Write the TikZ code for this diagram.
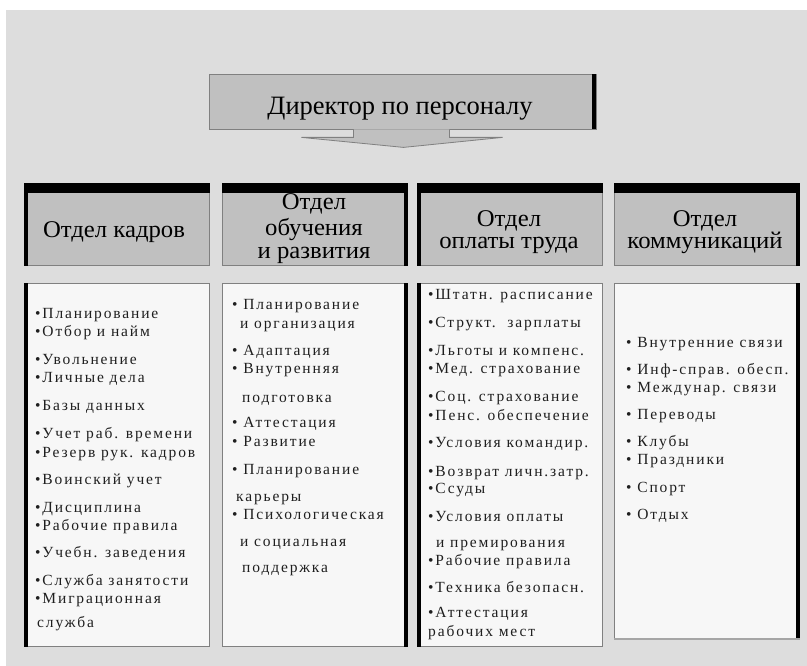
\documentclass[tikz,border=0pt]{standalone}
\usepackage{fontspec}
\setmainfont{Liberation Serif}
\newfontfamily\listfont[LetterSpace=12]{Liberation Serif}
\newfontfamily\headfont[FakeStretch=1.03]{Liberation Serif}
\usetikzlibrary{calc}
\definecolor{bg}{HTML}{DDDDDD}
\definecolor{panel}{HTML}{C0C0C0}
\definecolor{sheet}{HTML}{F7F7F7}
\definecolor{edge}{HTML}{808080}
\tikzset{
  panelbox/.style={fill=panel, draw=edge, line width=0.8pt, inner sep=0pt},
  sheetbox/.style={fill=sheet, draw=edge, line width=0.8pt, inner sep=0pt},
  head/.style={font=\headfont\fontsize{24}{24}\selectfont, inner sep=0pt, anchor=base},
  item/.style={font=\listfont\fontsize{15.5}{15.5}\selectfont, text=black!88, inner sep=0pt, anchor=base west},
  arrowshape/.style={fill=panel, draw=edge, line width=0.8pt, line join=miter},
}
\begin{document}
\begin{tikzpicture}[x=1pt, y=-1pt]
  \useasboundingbox (0,0) rectangle (807,666);
  \fill[white] (0,0) rectangle (807,666);
  \fill[bg] (6,10.5) rectangle (807,666);

  % director box with its down arrow
  \node[panelbox, minimum width=387pt, minimum height=55pt] (dir) at (402.5,101.5) {};
  \fill ($(dir.north east)+(-4,0)$) rectangle (dir.south east);
  \node[font=\fontsize{26.5}{26.5}\selectfont, inner sep=0pt, anchor=base] (dirlabel) at (400,115) {Директор по персоналу};
  \draw[arrowshape] ($(dir.south)+(-49,0)$) -- ++(0,8) -- ++(-52,0)
     -- ($(dir.south)+(1,18)$) -- ($(dir.south)+(100,8)$) -- ++(-53,0) -- ($(dir.south)+(47,0)$);

  % department headers and their task sheets
  \foreach \L/\s/\b [count=\i] in {24/0/646, 222/1/646, 417/0/646, 614/1/638} {
    \node[panelbox, minimum width=185pt, minimum height=82pt, anchor=north west] (h\i) at (\L,183) {};
    \fill (h\i.north west) rectangle ($(h\i.north east)+(0,10)$);
    \pgfmathsetmacro\hgt{\b-283}
    \node[sheetbox, minimum width=185pt, minimum height=\hgt pt, anchor=north west] (s\i) at (\L,283) {};
    \ifnum\s=0
      \fill (h\i.north west) rectangle ($(h\i.south west)+(3.5,0)$);
      \fill (s\i.north west) rectangle ($(s\i.south west)+(3.5,0)$);
    \else
      \fill ($(h\i.north east)+(-3.5,0)$) rectangle (h\i.south east);
      \fill ($(s\i.north east)+(-3.5,0)$) rectangle (s\i.south east);
    \fi
  }
  \draw[color=edge!70, line width=1.6pt] (s4.south west) -- (s4.south east);

  % header titles
  \node[head] (t1) at (114,238) {Отдел кадров};
  \node[head] (t2a) at (314,210) {Отдел};
  \node[head] (t2b) at (314,236) {обучения};
  \node[head] (t2c) at (314,258.5) {и развития};
  \node[head] (t3a) at (509,227) {Отдел};
  \node[head] (t3b) at (509,249) {оплаты труда};
  \node[head] (t4a) at (705,227) {Отдел};
  \node[head] (t4b) at (705,249) {коммуникаций};

  % task lists
  \foreach \x/\y/\t [count=\n] in {
    35/318/•Планирование, 35/336/•Отбор и найм, 35/364/•Увольнение,
    35/382/•Личные дела, 35/410/•Базы данных, 35/438/•Учет раб. времени,
    35/457/•Резерв рук. кадров, 35/484/•Воинский учет, 35/512/•Дисциплина,
    35/530/•Рабочие правила, 35/557/•Учебн. заведения, 35/585/•Служба занятости,
    35/603/•Миграционная, 37/627/служба}
    \node[item] (a\n) at (\x,\y) {\t};

  \foreach \x/\y/\t [count=\n] in {
    232/309/• Планирование, 240/328/и организация, 232/355/• Адаптация,
    232/373/• Внутренняя, 242/402/подготовка, 232/427/• Аттестация,
    232/446/• Развитие, 232/474/• Планирование, 236/501/карьеры,
    232/519/• Психологическая, 240/546/и социальная, 242/572/поддержка}
    \node[item] (b\n) at (\x,\y) {\t};

  \foreach \x/\y/\t [count=\n] in {
    428/300/•Штатн. расписание, 428/327/•Структ.\ \ зарплаты,
    428/355/•Льготы и компенс., 428/373/•Мед. страхование,
    428/401/•Соц. страхование, 428/420/•Пенс. обеспечение,
    428/447/•Условия командир., 428/476/•Возврат личн.затр.,
    428/493/•Ссуды, 428/521/•Условия оплаты, 436/547/и премирования,
    428/565/•Рабочие правила, 428/592/•Техника безопасн.,
    428/617/•Аттестация, 428/636/рабочих мест}
    \node[item] (c\n) at (\x,\y) {\t};

  \foreach \x/\y/\t [count=\n] in {
    626/347/• Внутренние связи, 626/374/• Инф-справ. обесп.,
    626/392/• Междунар. связи, 626/419/• Переводы, 626/446/• Клубы,
    626/464/• Праздники, 626/492/• Спорт, 626/519/• Отдых}
    \node[item] (d\n) at (\x,\y) {\t};
\end{tikzpicture}
\end{document}
